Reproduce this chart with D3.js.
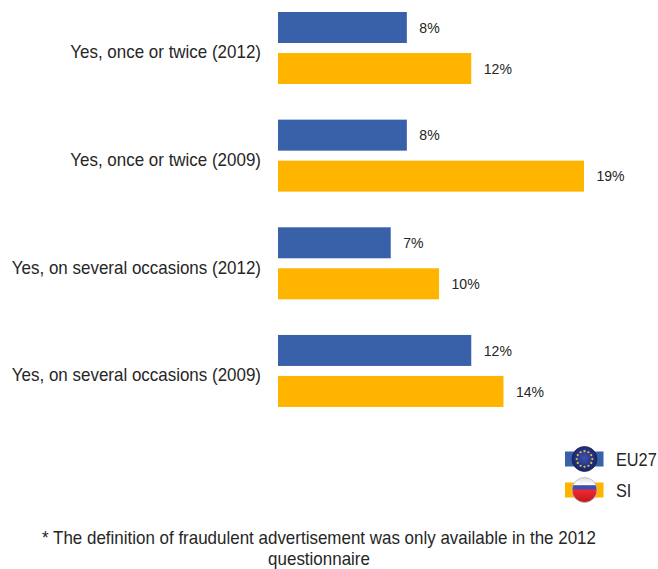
<!DOCTYPE html>
<html>
<head>
<meta charset="utf-8">
<script src="https://cdnjs.cloudflare.com/ajax/libs/d3/7.8.5/d3.min.js"></script>
<style>
html,body{margin:0;padding:0;background:#fff}
svg{display:block}
text{font-family:"Liberation Sans",Arial,sans-serif;fill:#262626}
</style>
</head>
<body>
<svg id="chart" width="658" height="569"></svg>
<script>
const categories = ["Yes, once or twice (2012)","Yes, once or twice (2009)","Yes, on several occasions (2012)","Yes, on several occasions (2009)"];
const seriesNames = ["EU27","SI"];
const eu27Values = [8,8,7,12];
const siValues = [12,19,10,14];
const seriesColors = ["#3861AA","#FFB400"];
const footnoteLines = ["* The definition of fraudulent advertisement was only available in the 2012","questionnaire"];

const svg = d3.select("#chart");
const x = d3.scaleLinear().domain([0,19]).range([278,584]);
const y0 = d3.scaleBand().domain(categories).range([0,430.6]);
const series = [eu27Values,siValues];
const barH = 31;
const squeeze = 0.925;

// Draws a narrowed text run anchored at (px,py)
function narrowText(sel,px,py){
  return sel.attr("transform",(d,i)=>`translate(${px(d,i)},${py(d,i)}) scale(${squeeze},1)`)
    .attr("dy","0.35em");
}

// Category labels, right aligned against the bars
svg.append("g").selectAll("text").data(categories).join("text")
  .attr("text-anchor","end").attr("font-size",18.35)
  .call(narrowText,()=>261,c=>y0(c)+52)
  .text(c=>c);

// Paired bars with value labels
seriesNames.forEach((name,si)=>{
  const g = svg.append("g");
  const ty = c=>y0(c)+12+si*41;
  g.selectAll("rect").data(categories).join("rect")
    .attr("x",x(0)).attr("y",ty)
    .attr("width",(c,i)=>x(series[si][i])-x(0)).attr("height",barH)
    .attr("fill",seriesColors[si]);
  g.selectAll("text").data(categories).join("text")
    .attr("font-size",15.2)
    .call(narrowText,(c,i)=>x(series[si][i])+12.5,c=>ty(c)+barH/2)
    .text((c,i)=>series[si][i]+"%");
});

// Legend: colour strip with a round flag badge
const defs = svg.append("defs");
const euGrad = defs.append("radialGradient").attr("id","euBall").attr("cx","50%").attr("cy","45%").attr("r","55%");
euGrad.append("stop").attr("offset","0%").attr("stop-color","#3f52b0");
euGrad.append("stop").attr("offset","100%").attr("stop-color","#161f66");
const siGrad = defs.append("linearGradient").attr("id","siBall").attr("x1",0).attr("x2",0).attr("y1",0).attr("y2",1);
[["0%","#dcdce2"],["28%","#ffffff"],["33%","#3a4fb0"],["45%","#3a4fb0"],["50%","#ee2a30"],["100%","#c0161d"]]
  .forEach(([o,c])=>siGrad.append("stop").attr("offset",o).attr("stop-color",c));

const legendY = [459,490];
const legend = svg.append("g").selectAll("g").data(seriesNames).join("g")
  .attr("transform",(d,i)=>`translate(0,${legendY[i]})`);
legend.append("rect").attr("x",565).attr("y",-7.5).attr("width",38.5).attr("height",15)
  .attr("fill",(d,i)=>seriesColors[i]);
legend.append("circle").attr("cx",584.5).attr("cy",0).attr("r",12.5)
  .attr("fill",(d,i)=>i===0?"url(#euBall)":"url(#siBall)")
  .attr("stroke",(d,i)=>i===0?"#1c2550":"#b9b9c4").attr("stroke-width",0.8);
legend.append("text").attr("font-size",17.6)
  .call(narrowText,()=>616,()=>1)
  .text(d=>d);

// Twelve yellow stars on the EU badge
const starAngles = d3.range(12).map(i=>i*Math.PI/6);
svg.append("g").attr("transform",`translate(584.5,${legendY[0]})`)
  .selectAll("circle").data(starAngles).join("circle")
  .attr("cx",a=>7.8*Math.cos(a)).attr("cy",a=>7.8*Math.sin(a)).attr("r",1.1)
  .attr("fill","#d9c545");

// Footnote
svg.append("g").selectAll("text").data(footnoteLines).join("text")
  .attr("text-anchor","middle").attr("font-size",18.35)
  .call(narrowText,()=>319,(d,i)=>537.5+i*21)
  .text(d=>d);
</script>
</body>
</html>
